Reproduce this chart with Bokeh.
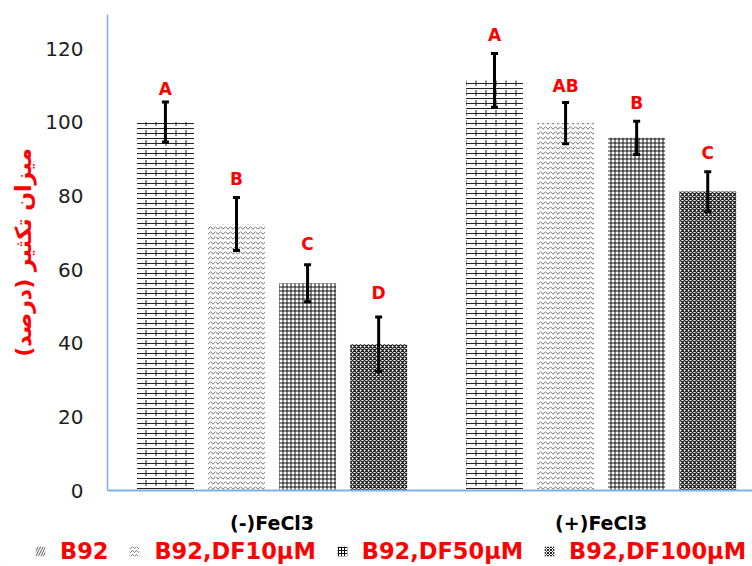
from bokeh.plotting import figure
from bokeh.layouts import column
from bokeh.models import Range1d, FixedTicker, Whisker, ColumnDataSource, Legend, LegendItem, TeeHead
from bokeh.core.properties import value
from bokeh.embed import file_html
from bokeh.resources import INLINE

groups = ["(-)FeCl3", "(+)FeCl3"]
series = ["B92", "B92,DF10μM", "B92,DF50μM", "B92,DF100μM"]
means_minus = [100.1, 72.4, 56.3, 39.7]
means_plus = [111.4, 99.8, 95.8, 81.2]
err_minus = [5.4, 7.2, 5.0, 7.4]
err_plus = [7.3, 5.6, 4.5, 5.4]
letters_minus = ["A", "B", "C", "D"]
letters_plus = ["A", "AB", "B", "C"]
letter_y_minus = [107.3, 82.9, 65.2, 52.1]
letter_y_plus = [122.1, 108.2, 103.7, 90.1]
y_ticks = [0, 20, 40, 60, 80, 100, 120]

group_centers = [0.5, 1.5]
offsets = [-0.324, -0.108, 0.108, 0.324]
bar_w = 0.173

FONT = "DejaVu Sans"
W = 752
LEFT = 107
TOP = 14
FRAME_H = 476
BOTTOM = 14
X_END = 1.96
H_A = TOP + FRAME_H + BOTTOM
H_B = 566 - H_A

p = figure(width=W, height=H_A, output_backend="svg", toolbar_location=None,
           x_range=Range1d(0, X_END), y_range=Range1d(0, 129.3),
           min_border_left=LEFT, min_border_right=0, min_border_top=TOP, min_border_bottom=BOTTOM)
p.frame_align = False
p.outline_line_color = None
p.xgrid.visible = False
p.ygrid.visible = False

bar_styles = [
    dict(hatch_pattern="horizontal_line", hatch_color="#222222", hatch_scale=5, hatch_weight=1),
    dict(hatch_pattern="horizontal_wave", hatch_color="#6f6f6f", hatch_scale=5, hatch_weight=1),
    dict(hatch_pattern="cross", hatch_color="#111111", hatch_scale=4, hatch_weight=1),
    dict(hatch_pattern="diagonal_cross", hatch_color="#222222", hatch_scale=4, hatch_weight=1.3),
]
legend_styles = [
    dict(hatch_pattern="right_diagonal_line", hatch_color="#555555", hatch_scale=5, hatch_weight=1),
    dict(hatch_pattern="horizontal_wave", hatch_color="#777777", hatch_scale=4, hatch_weight=1),
    dict(hatch_pattern="cross", hatch_color="#111111", hatch_scale=3, hatch_weight=1),
    dict(hatch_pattern="diagonal_cross", hatch_color="#222222", hatch_scale=3, hatch_weight=1),
]

# strip below the plot (category labels + legend), same horizontal scale
px_per_unit = (W - LEFT) / X_END
q = figure(width=W, height=H_B, output_backend="svg", toolbar_location=None,
           x_range=Range1d(-LEFT / px_per_unit, X_END), y_range=Range1d(0, H_B),
           x_axis_type=None, y_axis_type=None,
           min_border=0, min_border_left=0, min_border_right=0, min_border_top=0, min_border_bottom=0)
q.frame_align = False
q.outline_line_color = None
q.xgrid.visible = False
q.ygrid.visible = False

items = []
for i in range(4):
    xs = [c + offsets[i] for c in group_centers]
    tops = [means_minus[i], means_plus[i]]
    errs = [err_minus[i], err_plus[i]]
    src = ColumnDataSource(dict(x=xs, top=tops, upper=[t + e for t, e in zip(tops, errs)],
                                lower=[t - e for t, e in zip(tops, errs)],
                                lab=[letters_minus[i], letters_plus[i]],
                                ly=[letter_y_minus[i], letter_y_plus[i]]))
    p.vbar(x="x", top="top", width=bar_w, source=src, fill_color="white", line_color=None, **bar_styles[i])
    if i == 0:
        p.vbar(x="x", top="top", width=bar_w, source=src, fill_alpha=0, line_color=None,
               hatch_pattern="vertical_dash", hatch_color="#222222", hatch_scale=10, hatch_weight=1)
    w = Whisker(base="x", upper="upper", lower="lower", source=src, dimension="height",
                line_color="black", line_width=3, level="annotation",
                upper_head=TeeHead(size=7, line_width=3, line_color="black"),
                lower_head=TeeHead(size=7, line_width=3, line_color="black"))
    p.add_layout(w)
    p.text(x="x", y="ly", text="lab", source=src, text_color="red", text_font=value(FONT),
           text_font_style="bold", text_font_size="17px", text_align="center", text_baseline="bottom",
           y_offset=4)
    dummy = q.vbar(x=[-5], top=[1], width=bar_w, fill_color="white", line_color=None, **legend_styles[i])
    items.append(LegendItem(label=series[i], renderers=[dummy]))

legend = Legend(items=items, orientation="horizontal", location=(34, 2),
                glyph_width=12, glyph_height=12, label_standoff=14, spacing=20,
                label_text_font=FONT, label_text_font_style="bold", label_text_color="red",
                label_text_font_size="22.5px", border_line_color=None, background_fill_alpha=0,
                padding=0, margin=0)
q.add_layout(legend)

q.text(x=group_centers, y=[H_B - 18, H_B - 18], text=groups, text_color="black",
       text_font=value(FONT), text_font_style="bold", text_font_size="19px",
       text_align="center", text_baseline="middle")

axis_blue = "#7EB2E4"
p.xaxis.ticker = FixedTicker(ticks=[])
p.xaxis.major_tick_line_color = None
p.xaxis.minor_tick_line_color = None
p.xaxis.axis_line_color = axis_blue
p.xaxis.axis_line_width = 2

p.yaxis.ticker = FixedTicker(ticks=y_ticks)
p.yaxis.major_tick_line_color = None
p.yaxis.minor_tick_line_color = None
p.yaxis.major_tick_out = 0
p.yaxis.axis_line_color = axis_blue
p.yaxis.axis_line_width = 1.5
p.yaxis.major_label_text_font = FONT
p.yaxis.major_label_text_font_size = "20px"
p.yaxis.major_label_text_color = "#1e1e1e"
p.yaxis.major_label_standoff = 24
p.yaxis.axis_label = "میزان تکثیر (درصد)"
p.yaxis.axis_label_text_font = FONT
p.yaxis.axis_label_text_font_style = "bold"
p.yaxis.axis_label_text_font_size = "22px"
p.yaxis.axis_label_text_color = "red"
p.yaxis.axis_label_standoff = 6

layout = column(p, q, spacing=0)
open("out.html", "w").write(file_html(layout, INLINE))
